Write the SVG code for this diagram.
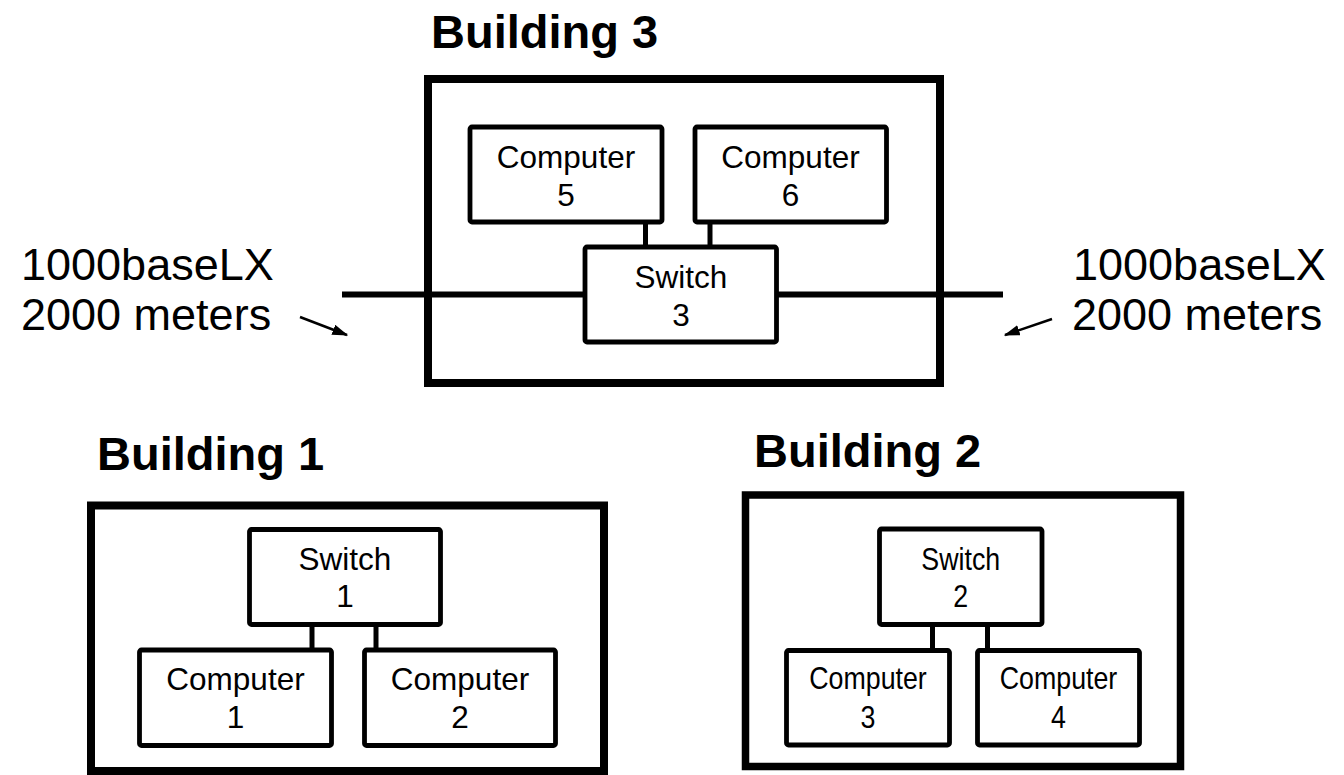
<svg xmlns="http://www.w3.org/2000/svg" width="1344" height="775" viewBox="0 0 1344 775">
  <style>
    .bldg { fill: none; stroke: #000; stroke-width: 8; }
    .box { fill: #fff; stroke: #000; stroke-width: 4.8; }
    .title { font-family: "Liberation Sans", Arial, sans-serif; font-weight: bold; font-size: 47px; fill: #000; }
    .lbl { font-family: "Liberation Sans", Arial, sans-serif; font-size: 31.5px; fill: #000; text-anchor: middle; }
    .note { font-family: "Liberation Sans", Arial, sans-serif; font-size: 45px; fill: #000; }
    .stub { stroke: #000; stroke-width: 5; fill: none; }
    .link { stroke: #000; stroke-width: 6; fill: none; }
    .ptr { stroke: #000; stroke-width: 2.5; fill: none; marker-end: url(#head); }
  </style>
  <defs>
    <marker id="head" viewBox="0 0 12 8" refX="11" refY="4" markerWidth="6.4" markerHeight="4.3" orient="auto" markerUnits="strokeWidth">
      <path d="M0,0 L12,4 L0,8 z" fill="#000"/>
    </marker>
  </defs>
  <rect width="1344" height="775" fill="#fff"/>

  <!-- Building 3 -->
  <g id="building3">
    <text class="title" x="431" y="48">Building 3</text>
    <rect class="bldg" x="428" y="79" width="512" height="304"/>
  </g>

  <!-- Building 1 -->
  <g id="building1">
    <text class="title" x="97" y="470">Building 1</text>
    <rect class="bldg" x="91" y="505.5" width="513" height="265.5"/>
  </g>

  <!-- Building 2 -->
  <g id="building2">
    <text class="title" x="754" y="467">Building 2</text>
    <rect class="bldg" x="745.5" y="495" width="435" height="271.5" style="stroke-width:7.5"/>
  </g>

  <!-- connectors -->
  <g id="connectors">
    <!-- uplinks between buildings -->
    <line class="link" x1="342" y1="294.5" x2="585" y2="294.5"/>
    <line class="link" x1="776.5" y1="294.5" x2="1003" y2="294.5"/>
    <!-- building 3 -->
    <line class="stub" x1="645.5" y1="222" x2="645.5" y2="247"/>
    <line class="stub" x1="710" y1="222" x2="710" y2="247"/>
    <!-- building 1 -->
    <line class="stub" x1="312" y1="624.5" x2="312" y2="650"/>
    <line class="stub" x1="376" y1="624.5" x2="376" y2="650"/>
    <!-- building 2 -->
    <line class="stub" x1="932.5" y1="624.5" x2="932.5" y2="650.5"/>
    <line class="stub" x1="987.5" y1="624.5" x2="987.5" y2="650.5"/>
    <!-- label pointers -->
    <line class="ptr" x1="300" y1="317" x2="347" y2="335"/>
    <line class="ptr" x1="1052" y1="319" x2="1005" y2="335"/>
  </g>

  <!-- link notes -->
  <g id="note-left">
    <text class="note" x="21" y="280">1000baseLX</text>
    <text class="note" x="21" y="330">2000 meters</text>
  </g>
  <g id="note-right">
    <text class="note" x="1073" y="280">1000baseLX</text>
    <text class="note" x="1072" y="330">2000 meters</text>
  </g>

  <!-- Building 3 nodes -->
  <g id="computer5">
    <rect class="box" x="470" y="127" width="192" height="95" rx="2"/>
    <text class="lbl" x="566" y="168">Computer</text>
    <text class="lbl" x="566" y="206">5</text>
  </g>
  <g id="computer6">
    <rect class="box" x="695" y="127" width="191.5" height="95" rx="2"/>
    <text class="lbl" x="790.5" y="168">Computer</text>
    <text class="lbl" x="790.5" y="206">6</text>
  </g>
  <g id="switch3">
    <rect class="box" x="585" y="247" width="191.5" height="95" rx="2"/>
    <text class="lbl" x="681" y="288">Switch</text>
    <text class="lbl" x="681" y="326">3</text>
  </g>

  <!-- Building 1 nodes -->
  <g id="switch1">
    <rect class="box" x="249.5" y="529.5" width="191" height="95" rx="2"/>
    <text class="lbl" x="345" y="570">Switch</text>
    <text class="lbl" x="345" y="607">1</text>
  </g>
  <g id="computer1">
    <rect class="box" x="139.5" y="650" width="192" height="95.5" rx="2"/>
    <text class="lbl" x="235.5" y="690">Computer</text>
    <text class="lbl" x="235.5" y="728">1</text>
  </g>
  <g id="computer2">
    <rect class="box" x="364.5" y="650" width="191" height="95.5" rx="2"/>
    <text class="lbl" x="460" y="690">Computer</text>
    <text class="lbl" x="460" y="728">2</text>
  </g>

  <!-- Building 2 nodes (narrower lettering) -->
  <g id="switch2">
    <rect class="box" x="879.5" y="529" width="162.5" height="95.5" rx="2"/>
    <g transform="translate(960.75 0) scale(0.85 1)">
      <text class="lbl" x="0" y="570">Switch</text>
      <text class="lbl" x="0" y="607">2</text>
    </g>
  </g>
  <g id="computer3">
    <rect class="box" x="786.5" y="650.5" width="163" height="94.5" rx="2"/>
    <g transform="translate(868 0) scale(0.85 1)">
      <text class="lbl" x="0" y="689">Computer</text>
      <text class="lbl" x="0" y="728">3</text>
    </g>
  </g>
  <g id="computer4">
    <rect class="box" x="977.5" y="650.5" width="162" height="94.5" rx="2"/>
    <g transform="translate(1058.5 0) scale(0.85 1)">
      <text class="lbl" x="0" y="689">Computer</text>
      <text class="lbl" x="0" y="728">4</text>
    </g>
  </g>
</svg>
